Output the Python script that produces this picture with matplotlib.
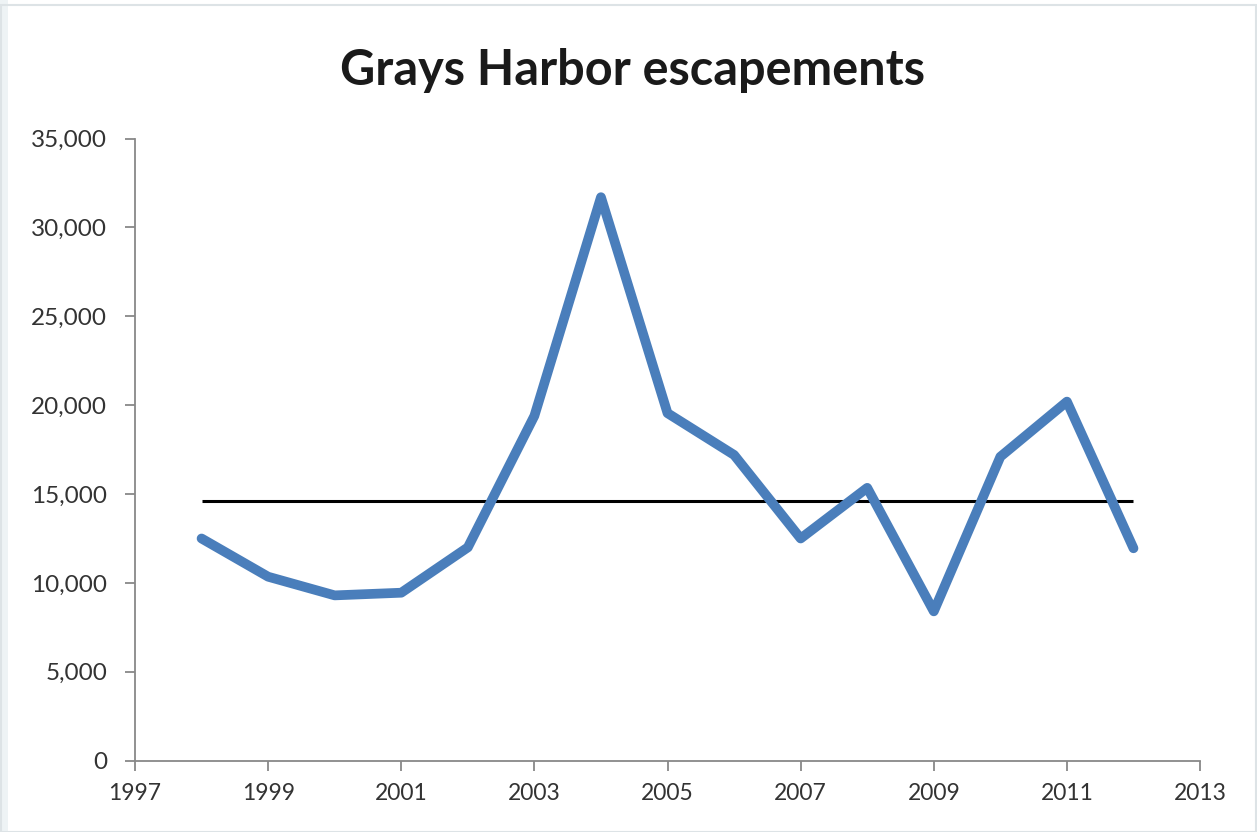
import matplotlib
matplotlib.use("Agg")
import matplotlib.pyplot as plt
from matplotlib.ticker import FuncFormatter
from matplotlib.patches import Rectangle

years = [1998, 1999, 2000, 2001, 2002, 2003, 2004, 2005, 2006, 2007, 2008, 2009, 2010, 2011, 2012]
escapement = [12500, 10350, 9300, 9450, 12000, 19400, 31700, 19550, 17200, 12500, 15350, 8400, 17100, 20200, 11950]
mean_years = [1998, 2012]
mean_level = [14620, 14620]
xticks = [1997, 1999, 2001, 2003, 2005, 2007, 2009, 2011, 2013]
yticks = [0, 5000, 10000, 15000, 20000, 25000, 30000, 35000]

INK = "#333333"
BLUE = "#4A7EBB"
plt.rcParams["font.family"] = ["Lato", "DejaVu Sans"]

fig = plt.figure(figsize=(12.57, 8.32), dpi=100)
ax = fig.add_axes([0.1074, 0.0857, 0.8473, 0.7478])

ax.plot(mean_years, mean_level, color="black", lw=2.2, solid_capstyle="butt")
ax.plot(years, escapement, color=BLUE, lw=7, solid_joinstyle="round", solid_capstyle="round")

ax.set_xlim(1997, 2013)
ax.set_ylim(0, 35000)
ax.set_xticks(xticks)
ax.set_yticks(yticks)
ax.yaxis.set_major_formatter(FuncFormatter(lambda v, p: f"{int(v):,}"))
ax.tick_params(axis="both", colors="#888888", labelcolor=INK, length=7, width=1.3)
ax.tick_params(axis="y", pad=13, labelsize=17.5)
ax.tick_params(axis="x", pad=9, labelsize=16.5)
ax.spines[["top", "right"]].set_visible(False)
for s in ("left", "bottom"):
    ax.spines[s].set_color("#888888")
    ax.spines[s].set_linewidth(1.3)

fig.text(0.503, 0.915, "Grays Harbor escapements", ha="center", va="center",
         fontsize=35, fontweight="bold", color="#1a1a1a")

# light frame of the screenshot
fig.patches.append(Rectangle((0, 0), 0.006, 1, transform=fig.transFigure,
                             facecolor="#EEF3F5", edgecolor="none"))
fig.patches.append(Rectangle((0.0005, 0.0005), 0.999, 0.994, transform=fig.transFigure,
                             facecolor="none", edgecolor="#DDE3E6", lw=1.5))

fig.savefig("out.png", dpi=100, facecolor="white")
